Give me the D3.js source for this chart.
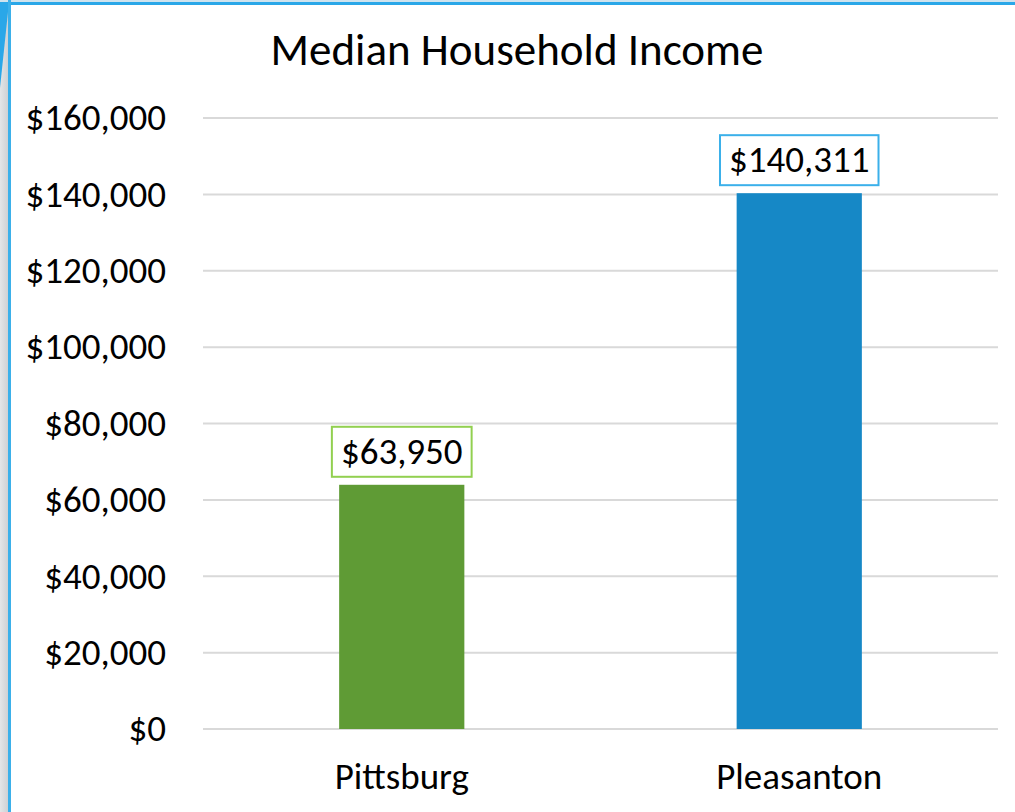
<!DOCTYPE html>
<html lang="en">
<head>
  <meta charset="UTF-8">
  <title>Median Household Income</title>
  <style>
    html, body { margin: 0; padding: 0; background: #ffffff; }
    svg { display: block; font-family: Calibri, Carlito, "Open Sans", sans-serif; }
    .grid line { stroke: #d9d9d9; stroke-width: 2px; }
    .axis text { fill: #000000; }
  </style>
</head>
<body>
<svg id="chart" width="1015" height="812"></svg>

<script src="https://cdn.jsdelivr.net/npm/d3@7"></script>
<script>
  "use strict";

  // data
  var cities = ["Pittsburg", "Pleasanton"];
  var incomes = [63950, 140311];
  var barColors = ["#5f9b35", "#1688c6"];
  var labelBorders = ["#92d050", "#3bb0ea"];
  var yTicks = [0, 20000, 40000, 60000, 80000, 100000, 120000, 140000, 160000];

  var W = 1015, H = 812;
  var margin = { top: 118, right: 17, bottom: 83, left: 203 };
  var fontFam = "Calibri, Carlito, 'Open Sans', sans-serif";

  var svg = d3.select("#chart");

  // slide frame bits at the edges
  var grad = svg.append("defs").append("linearGradient")
    .attr("id", "side").attr("x1", 0).attr("x2", 1);
  grad.append("stop").attr("offset", 0).attr("stop-color", "#e4e6e8");
  grad.append("stop").attr("offset", 1).attr("stop-color", "#c9cccf");
  svg.append("rect").attr("x", 0).attr("y", 0).attr("width", 10).attr("height", H)
    .attr("fill", "url(#side)");
  svg.append("path").attr("d", "M0,0 L9,0 L8,12 L0,88 Z").attr("fill", "#2aa7e8");
  svg.append("rect").attr("x", 0).attr("y", 0).attr("width", W).attr("height", 2)
    .attr("fill", "#cfe3ee");
  svg.append("rect").attr("x", 0).attr("y", 2).attr("width", W).attr("height", 3)
    .attr("fill", "#2aa7e8");
  svg.append("rect").attr("x", 8).attr("y", 0).attr("width", 3).attr("height", H)
    .attr("fill", "#3bb0ea");

  var x = d3.scaleBand()
    .domain(cities)
    .range([margin.left, W - margin.right])
    .padding(0);

  var y = d3.scaleLinear()
    .domain([0, 160000])
    .range([H - margin.bottom, margin.top]);

  var barW = x.bandwidth() * 0.315;

  // title
  svg.append("text")
    .attr("x", 517).attr("y", 65)
    .attr("text-anchor", "middle")
    .attr("font-size", 45)
    .text("Median Household Income");

  // gridlines
  svg.append("g").attr("class", "grid")
    .selectAll("line")
    .data(yTicks)
    .enter()
    .append("line")
    .attr("x1", margin.left)
    .attr("x2", W - margin.right)
    .attr("y1", function(d){ return y(d); })
    .attr("y2", function(d){ return y(d); });

  // y axis labels
  var yAxis = d3.axisLeft(y)
    .tickValues(yTicks)
    .tickSize(0)
    .tickPadding(0)
    .tickFormat(function(d){ return "$" + d3.format(",")(d); });

  svg.append("g")
    .attr("class", "axis")
    .attr("transform", "translate(166,0)")
    .call(yAxis)
    .attr("font-family", fontFam)
    .attr("font-size", 37)
    .call(function(g){ g.select(".domain").remove(); });

  // x axis labels
  var xAxis = d3.axisBottom(x).tickSize(0).tickPadding(0);
  svg.append("g")
    .attr("class", "axis")
    .attr("transform", "translate(0,763)")
    .call(xAxis)
    .attr("font-family", fontFam)
    .attr("font-size", 37)
    .call(function(g){ g.select(".domain").remove(); });

  // bars
  svg.append("g")
    .selectAll("rect")
    .data(incomes)
    .enter()
    .append("rect")
    .attr("x", function(d,i){ return x(cities[i]) + (x.bandwidth() - barW) / 2; })
    .attr("y", function(d){ return y(d); })
    .attr("width", barW)
    .attr("height", function(d){ return y(0) - y(d); })
    .attr("fill", function(d,i){ return barColors[i]; });

  // data labels with boxes
  var labels = svg.append("g")
    .selectAll("g")
    .data(incomes)
    .enter()
    .append("g");

  labels.append("text")
    .attr("x", function(d,i){ return x(cities[i]) + x.bandwidth() / 2; })
    .attr("y", function(d){ return y(d) - 21; })
    .attr("text-anchor", "middle")
    .attr("font-size", 37)
    .text(function(d){ return "$" + d3.format(",")(d); });

  labels.each(function(d,i){
    var g = d3.select(this);
    var bb = g.select("text").node().getBBox();
    g.insert("rect", "text")
      .attr("x", bb.x - 9)
      .attr("y", y(d) - 58)
      .attr("width", bb.width + 18)
      .attr("height", 50)
      .attr("fill", "#ffffff")
      .attr("stroke", labelBorders[i])
      .attr("stroke-width", 2);
  });
</script>
</body>
</html>
